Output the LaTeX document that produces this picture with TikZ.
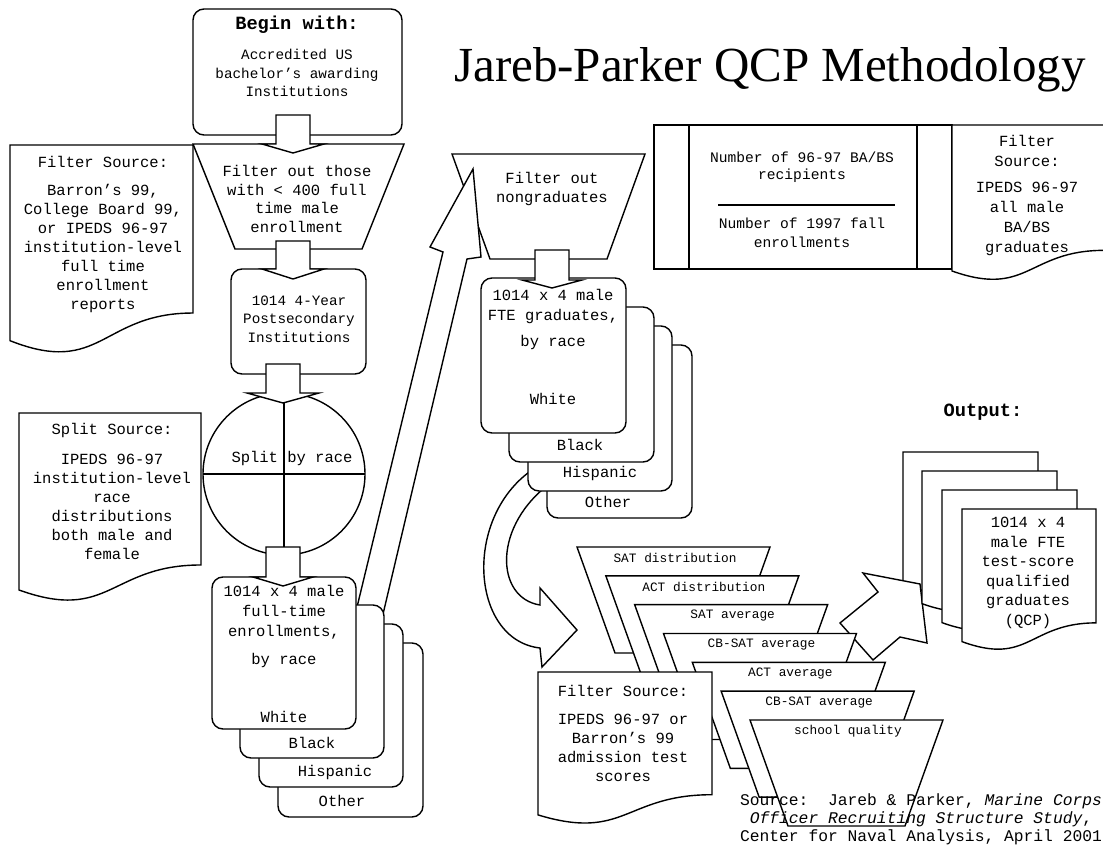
\documentclass[tikz,border=0pt]{standalone}
\usepackage{fontspec}
\setmainfont{Liberation Serif}
\setmonofont{Liberation Mono}
% block arrow pointing down: centre x, shaft top, head base, tip, head half width
\newcommand\downblock[5]{%
  \draw[shp] (#1-17,#2) -- (#1+17,#2) -- (#1+17,#3) -- (#1+#5,#3) -- (#1,#4)
    -- (#1-#5,#3) -- (#1-17,#3) -- cycle;}
% flowchart document shape: x1, y1, x2, height
\newcommand\docshape[4]{%
  \draw[shp] (#1,#2) -- (#3,#2) -- (#3,#2+0.802*#4)
    .. controls ({(#1+#3)/2},#2+0.802*#4) and ({(#1+#3)/2},#2+1.107*#4) .. (#1,#2+0.934*#4)
    -- cycle;}
\begin{document}
\begin{tikzpicture}[x=1pt,y=-1pt,line width=1.4pt,
  shp/.style={draw=black, fill=white},
  roundbox/.style={shp, rounded corners=11pt},
  txt/.style={font=\ttfamily\fontsize{15.5}{19}\selectfont, align=center, inner sep=0pt},
  stxt/.style={font=\ttfamily\fontsize{14.3}{18.5}\selectfont, align=center, inner sep=0pt},
  ttxt/.style={font=\ttfamily\fontsize{12.8}{16}\selectfont, inner sep=0pt},
  headtxt/.style={font=\ttfamily\bfseries\fontsize{18.7}{22}\selectfont, inner sep=0pt},
]
\useasboundingbox (0,0) rectangle (1103,848);
\clip (0,0) rectangle (1103,848);

% ---------- title ----------
\node[font=\fontsize{49}{55}\selectfont, anchor=base, inner sep=0pt] (title) at (770,82) {Jareb-Parker QCP Methodology};

% ---------- left column ----------
\docshape{10}{145}{193}{209.5}
\node[txt] (fsrc1) at (103,234) {Filter Source:\\[9pt] Barron’s 99,\\ College Board 99,\\ or IPEDS 96-97\\ institution-level\\ full time\\ enrollment\\ reports};

\draw[roundbox] (193,9) rectangle (402,135);
\node[headtxt] (begin) at (297,25) {Begin with:};
\node[stxt] (accr) at (297,73) {Accredited US\\ bachelor’s awarding\\ Institutions};

\draw[shp] (193,144) -- (404,144) -- (362,249) -- (235,249) -- cycle;
\node[txt,font=\ttfamily\fontsize{15.5}{18.5}\selectfont] (filt1) at (297,199) {Filter out those\\ with < 400 full\\ time male\\ enrollment};
\downblock{293}{115}{144}{153}{31}

\draw[roundbox] (231,269) rectangle (366,374);
\node[stxt] (inst) at (299,319) {1014 4-Year\\ Postsecondary\\ Institutions};
\downblock{293}{241}{269}{279}{31}

\draw[shp] (284,474) circle[radius=81];
\draw (284,393) -- (284,555);
\draw (203,474) -- (365,474);
\node[txt] (split) at (292,458) {Split by race};
\downblock{283}{364}{393}{403}{36}

\docshape{19}{413}{201}{189.5}
\node[txt] (ssrc) at (112,491) {Split Source:\\[11pt] IPEDS 96-97\\ institution-level\\ race\\ distributions\\ both male and\\ female};

% ---------- nongraduate filter and diagonal arrow ----------
\draw[shp] (452,154) -- (645,154) -- (607,259) -- (490,259) -- cycle;
\node[txt] (filt2) at (552,189) {Filter out\\ nongraduates};
\draw[shp] (350,636) -- (443,252) -- (430,247) -- (473,169) -- (481,257)
  -- (467,259) -- (375,648) -- cycle;

% ---------- enrollment cards ----------
\draw[roundbox] (278,643) rectangle (423,817);
\node[txt] (eoth) at (342,801) {Other};
\draw[roundbox] (259,624) rectangle (403,787);
\node[txt] (ehis) at (335,772) {Hispanic};
\draw[roundbox] (240,605) rectangle (384,758);
\node[txt] (eblk) at (312,743) {Black};
\draw[roundbox] (212,577) rectangle (356,729);
\node[txt,font=\ttfamily\fontsize{15.5}{20}\selectfont] (ewht) at (284,626) {1014 x 4 male\\ full-time\\ enrollments,\\[8pt] by race};
\node[txt] (ewlab) at (284,717) {White};
\downblock{283}{547}{577}{586}{30}

% ---------- curved arrow to the test filters ----------
\draw[shp] (535,468) .. controls (462,515) and (470,640) .. (540,648) -- (542,667)
  -- (577,630) -- (540,588) -- (540,605) .. controls (495,598) and (492,525) .. (552,482) -- cycle;

% ---------- graduate cards ----------
\draw[roundbox] (547,345) rectangle (692,518);
\node[txt] (goth) at (608,502) {Other};
\draw[roundbox] (528,326) rectangle (672,491);
\node[txt] (ghis) at (600,473) {Hispanic};
\draw[roundbox] (509,307) rectangle (654,462);
\node[txt] (gblk) at (580,445) {Black};
\draw[roundbox] (481,278) rectangle (626,433);
\node[txt,font=\ttfamily\fontsize{15.5}{20}\selectfont] (gwht) at (553,319) {1014 x 4 male\\ FTE graduates,\\[6pt] by race};
\node[txt] (gwlab) at (553,399) {White};
\downblock{552}{250}{280}{288}{30}

% ---------- ratio box and its source ----------
\draw[shp] (654,125) rectangle (952,269);
\draw (689,125) -- (689,269);
\draw (917,125) -- (917,269);
\draw (718,205) -- (895,205);
\node[stxt,font=\ttfamily\fontsize{14.6}{17}\selectfont] (numer) at (802,167) {Number of 96-97 BA/BS\\ recipients};
\node[stxt,font=\ttfamily\fontsize{14.6}{19}\selectfont] (denom) at (802,233) {Number of 1997 fall\\ enrollments};
\docshape{952}{125}{1104}{156.3}
\node[txt,font=\ttfamily\fontsize{15.5}{20}\selectfont] (fsrc3) at (1027,195) {Filter\\ Source:\\[6pt] IPEDS 96-97\\ all male\\ BA/BS\\ graduates};

% ---------- output stack ----------
\node[headtxt] (outlab) at (983,412) {Output:};
\docshape{903}{452}{1038}{142}
\draw[shp] (840,623) -- (878,592) -- (863,573) -- (920,584) -- (927,643)
  -- (900,637) -- (873,660) -- cycle;
\docshape{922}{471}{1057}{142}
\docshape{942}{490}{1077}{142}
\docshape{962}{509}{1096}{142}
\node[txt,font=\ttfamily\fontsize{15.5}{19.6}\selectfont] (qcp) at (1028,573) {1014 x 4\\ male FTE\\ test-score\\ qualified\\ graduates\\ (QCP)};

% ---------- admission test filters ----------
\foreach \i/\lab in {0/SAT distribution,1/ACT distribution,2/SAT average,3/CB-SAT average,4/ACT average,5/CB-SAT average,6/school quality}{
  \pgfmathsetmacro\tx{577+28.83*\i}
  \pgfmathsetmacro\ty{547+28.83*\i}
  \draw[shp] (\tx,\ty) -- ++(193,0) -- ++(-38,106) -- ++(-117,0) -- cycle;
  \node[ttxt] (t\i) at (\tx+98,\ty+11) {\lab};
}
\docshape{538}{672}{712}{153}
\node[txt] (fsrc2) at (623,733) {Filter Source:\\[9pt] IPEDS 96-97 or\\ Barron’s 99\\ admission test\\ scores};

% ---------- citation ----------
\node[txt,font=\ttfamily\fontsize{16.3}{18}\selectfont] (cite) at (921,819)
  {Source:\ \ Jareb \& Parker, \textit{Marine Corps}\\ \textit{Officer Recruiting Structure Study},\\ Center for Naval Analysis, April 2001};
\end{tikzpicture}
\end{document}
